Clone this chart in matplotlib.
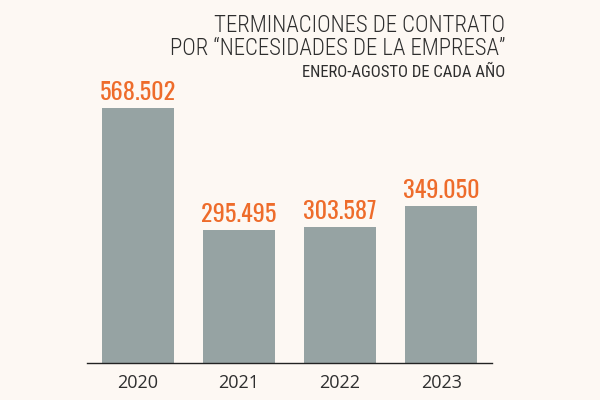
import matplotlib.pyplot as plt

years = ["2020", "2021", "2022", "2023"]
values = [568502, 295495, 303587, 349050]
labels = ["568.502", "295.495", "303.587", "349.050"]

bg = "#fdf8f3"
bar_color = "#96a3a3"
orange = "#ee6c2b"
dark = "#2e2e2e"

fig = plt.figure(figsize=(6, 4), dpi=100, facecolor=bg)
ax = fig.add_axes([87 / 600, 37 / 400, 405 / 600, 255 / 400])
ax.set_facecolor(bg)

x = range(len(years))
ax.bar(x, values, width=0.71, color=bar_color)
ax.set_xlim(-0.5, 3.5)
ax.set_ylim(0, max(values))

for i, (v, lab) in enumerate(zip(values, labels)):
    ax.annotate(lab, (i, v), xytext=(0, 3), textcoords="offset points",
                ha="center", va="bottom", color=orange, fontsize=17.5,
                fontweight=500, family="Oswald")

ax.set_xticks(list(x))
ax.set_xticklabels(years, fontsize=13, color=dark, family="Open Sans")
ax.tick_params(axis="x", length=0, pad=8)
ax.set_yticks([])
for s in ["top", "right", "left"]:
    ax.spines[s].set_visible(False)
ax.spines["bottom"].set_color("#222222")
ax.spines["bottom"].set_linewidth(1)

fig.text(505 / 600, 1 - 32 / 400, "TERMINACIONES DE CONTRATO", ha="right",
         va="baseline", fontsize=16.5, color=dark, family="Roboto Condensed", fontweight=300)
fig.text(505 / 600, 1 - 55 / 400, "POR \u201cNECESIDADES DE LA EMPRESA\u201d", ha="right",
         va="baseline", fontsize=16.5, color=dark, family="Roboto Condensed", fontweight=300)
fig.text(505 / 600, 1 - 77 / 400, "ENERO-AGOSTO DE CADA AÑO", ha="right",
         va="baseline", fontsize=12, color=dark, family="Roboto Condensed")

fig.savefig("out.png", dpi=100, facecolor=bg)
